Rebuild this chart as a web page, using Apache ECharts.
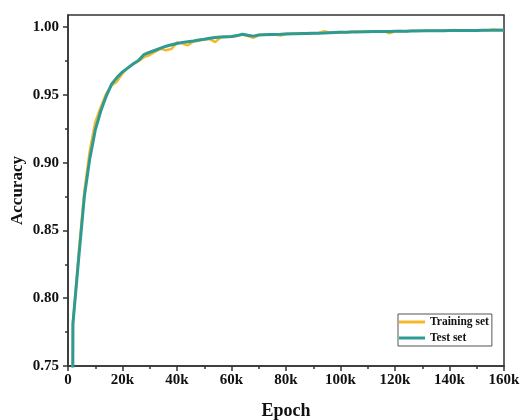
<!DOCTYPE html>
<html>
<head>
<meta charset="utf-8">
<script src="https://cdn.jsdelivr.net/npm/echarts@6/dist/echarts.min.js"></script>
<style>html,body{margin:0;padding:0;background:#fff}#c{width:523px;height:420px}</style>
</head>
<body>
<div id="c"></div>
<script>
const epochs = [1700,1800,4000,6000,8000,10000,12000,14000,16000,18000,20000,22000,24000,26000,28000,30000,32000,34000,36000,38000,40000,42000,44000,46000,48000,50000,52000,54000,56000,58000,60000,62000,64000,66000,68000,70000,72000,74000,76000,78000,80000,82000,84000,86000,88000,90000,92000,94000,96000,98000,100000,102000,104000,106000,108000,110000,112000,114000,116000,118000,120000,122000,124000,126000,128000,130000,132000,134000,136000,138000,140000,142000,144000,146000,148000,150000,152000,154000,156000,158000,160000];
const trainAcc = [0.70,0.781,0.835,0.879,0.909,0.930,0.941,0.951,0.957,0.960,0.966,0.970,0.973,0.975,0.978,0.9795,0.982,0.984,0.983,0.984,0.9888,0.988,0.9866,0.9895,0.990,0.991,0.9912,0.989,0.9925,0.9928,0.993,0.9935,0.9945,0.9935,0.9922,0.9942,0.9946,0.9943,0.9948,0.9938,0.9952,0.9950,0.9955,0.9949,0.9957,0.9955,0.9958,0.9970,0.9960,0.9962,0.9965,0.9960,0.9966,0.9968,0.9964,0.9970,0.9969,0.9966,0.9970,0.9955,0.9970,0.9972,0.9969,0.9973,0.9975,0.9972,0.9974,0.9973,0.9975,0.9976,0.9978,0.9980,0.9975,0.9976,0.9977,0.9975,0.9978,0.9977,0.9983,0.9982,0.9979];
const testAcc = [0.70,0.781,0.831,0.875,0.903,0.924,0.938,0.949,0.958,0.963,0.967,0.970,0.973,0.9757,0.980,0.9815,0.983,0.9845,0.986,0.987,0.988,0.9888,0.9893,0.9898,0.9905,0.9911,0.9918,0.9924,0.9928,0.993,0.9932,0.9938,0.9948,0.9940,0.9934,0.9942,0.9945,0.9946,0.9947,0.9948,0.995,0.9951,0.9952,0.9953,0.9954,0.9955,0.9956,0.9957,0.9959,0.9961,0.9962,0.9963,0.9964,0.9965,0.9966,0.9967,0.9968,0.9968,0.9969,0.9969,0.9970,0.9970,0.9971,0.9972,0.9972,0.9973,0.9973,0.9973,0.9974,0.9974,0.9975,0.9975,0.9975,0.9976,0.9976,0.9976,0.9977,0.9977,0.9978,0.9978,0.9978];
const yMajorTicks = [0.75,0.80,0.85,0.90,0.95,1.00];
const yMinorTicks = [0.775,0.825,0.875,0.925,0.975];
const seriesNames = ['Training set','Test set'];

const font = 'Liberation Serif';
const axisColor = '#333';
const yMin = 0.75, yMax = 1.009;

const chart = echarts.init(document.getElementById('c'), null, {renderer:'canvas'});
chart.setOption({
  animation:false,
  backgroundColor:'#fff',
  grid:{left:68,right:19,top:15,bottom:54,containLabel:false,outerBoundsMode:'none',show:true,borderColor:axisColor,borderWidth:1.5,backgroundColor:'transparent'},
  legend:{
    data:seriesNames, orient:'vertical', left:398, top:314, icon:'rect',
    padding:[2,3,2,1], itemGap:4, itemWidth:26, itemHeight:3,
    borderColor:'#555', borderWidth:1, backgroundColor:'#fff',
    textStyle:{fontFamily:font,fontWeight:'bold',fontSize:11.5,color:'#111'}
  },
  xAxis:{
    type:'value', min:0, max:160000, interval:20000,
    name:'Epoch', nameLocation:'middle', nameGap:36, nameMoveOverlap:false,
    nameTextStyle:{fontFamily:font,fontWeight:'bold',fontSize:18,color:'#111'},
    axisLine:{show:true,lineStyle:{color:axisColor,width:1.5}},
    axisTick:{show:true,inside:false,length:5,lineStyle:{color:axisColor,width:1.5}},
    minorTick:{show:true,splitNumber:2,length:3,lineStyle:{color:axisColor,width:1.5}},
    splitLine:{show:false},
    axisLabel:{margin:7,fontFamily:font,fontWeight:'bold',fontSize:15,color:'#111',
      formatter:v=> v===0 ? '0' : (v/1000)+'k'}
  },
  yAxis:[{
    type:'value', min:yMin, max:yMax,
    name:'Accuracy', nameLocation:'middle', nameGap:42, nameMoveOverlap:false,
    nameTextStyle:{fontFamily:font,fontWeight:'bold',fontSize:17,color:'#111'},
    axisLine:{show:true,lineStyle:{color:axisColor,width:1.5}},
    axisTick:{show:true,inside:false,length:5,customValues:yMajorTicks,lineStyle:{color:axisColor,width:1.5}},
    splitLine:{show:false},
    axisLabel:{margin:9,customValues:yMajorTicks,fontFamily:font,fontWeight:'bold',fontSize:15,color:'#111',
      formatter:v=>v.toFixed(2)}
  },{
    type:'value', min:yMin, max:yMax, position:'left',
    axisLine:{show:false},
    axisTick:{show:true,inside:false,length:3,customValues:yMinorTicks,lineStyle:{color:axisColor,width:1.5}},
    axisLabel:{show:false},
    splitLine:{show:false}
  }],
  series:[{
    name:seriesNames[0], type:'line', symbol:'none', smooth:false, clip:true,
    data:epochs.map((e,i)=>[e,trainAcc[i]]),
    lineStyle:{color:'#F6B72B',width:2.5}, itemStyle:{color:'#F6B72B'}, z:2
  },{
    name:seriesNames[1], type:'line', symbol:'none', smooth:false, clip:true,
    data:epochs.map((e,i)=>[e,testAcc[i]]),
    lineStyle:{color:'#2E9A94',width:3}, itemStyle:{color:'#2E9A94'}, z:3
  }]
});
</script>
</body>
</html>
